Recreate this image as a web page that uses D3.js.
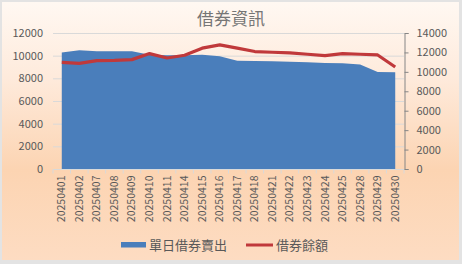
<!DOCTYPE html>
<html>
<head>
<meta charset="utf-8">
<script src="https://cdn.jsdelivr.net/npm/d3@7"></script>
<style>
	html, body { margin: 0; padding: 0; background: #ffffff; }
	svg { display: block; }
	text { font-family: "Noto Sans CJK TC", "Noto Sans", sans-serif; }
</style>
</head>
<body>
<svg id="chart" width="462" height="264"></svg>
<script>
var dates = ["20250401","20250402","20250407","20250408","20250409","20250410","20250411","20250414","20250415","20250416",
	"20250417","20250418","20250421","20250422","20250423","20250424","20250425","20250428","20250429","20250430"];
var dailySell = [10290,10470,10380,10380,10380,10090,10030,10030,10090,9940,
	9560,9530,9500,9470,9410,9360,9330,9230,8560,8530];
var balance = [10980,10880,11150,11180,11260,11880,11430,11710,12440,12780,
	12440,12090,12020,11950,11810,11670,11880,11810,11740,10500];
var leftTicks = [0,2000,4000,6000,8000,10000,12000];
var rightTicks = [0,2000,4000,6000,8000,10000,12000,14000];

var svg = d3.select("#chart");

// background
var defs = svg.append("defs");
var grad = defs.append("linearGradient").attr("id","bg").attr("x1",0).attr("y1",0).attr("x2",0).attr("y2",1);
grad.append("stop").attr("offset","0%").attr("stop-color","#fff8f2");
grad.append("stop").attr("offset","30%").attr("stop-color","#feeadb");
grad.append("stop").attr("offset","65%").attr("stop-color","#fcd4b2");
grad.append("stop").attr("offset","100%").attr("stop-color","#fddcc2");

svg.append("rect").attr("width",462).attr("height",264).attr("fill","#e3e3e3");
svg.append("rect")
	.attr("x",2).attr("y",2)
	.attr("width",457).attr("height",258)
	.attr("fill","url(#bg)");

var plotL = 53, plotR = 404, plotT = 33, plotB = 169;

var x = d3.scaleBand().domain(dates).range([plotL,plotR]);
var xc = function(d){ return x(d) + x.bandwidth()/2; };
var yL = d3.scaleLinear().domain([0,12000]).range([plotB,plotT]);
var yR = d3.scaleLinear().domain([0,14000]).range([plotB,plotT]);

// gridlines
svg.append("g").selectAll("line").data(leftTicks).enter().append("line")
	.attr("x1",plotL).attr("x2",plotR)
	.attr("y1",function(d){ return yL(d)+0.5; })
	.attr("y2",function(d){ return yL(d)+0.5; })
	.attr("stroke","#d9d9d9").attr("stroke-width",1);

// area
var area = d3.area()
	.x(function(d,i){ return xc(dates[i]); })
	.y0(yL(0))
	.y1(function(d){ return yL(d); });
svg.append("path").datum(dailySell)
	.attr("d",area)
	.attr("fill","#4a7ebb");

// line
var line = d3.line()
	.x(function(d,i){ return xc(dates[i]); })
	.y(function(d){ return yR(d); });
svg.append("path").datum(balance)
	.attr("d",line)
	.attr("fill","none")
	.attr("stroke","#c0393b")
	.attr("stroke-width",3.2)
	.attr("stroke-linejoin","round");

// x axis
var xAxis = svg.append("g").attr("transform","translate(0,"+(plotB+0.5)+")");
xAxis.append("line").attr("x1",plotL).attr("x2",plotR).attr("stroke","#d9d9d9");
xAxis.selectAll("line.tk").data(d3.range(dates.length+1)).enter().append("line").classed("tk",1)
	.attr("x1",function(i){ return plotL + i*x.step(); })
	.attr("x2",function(i){ return plotL + i*x.step(); })
	.attr("y1",0).attr("y2",4)
	.attr("stroke","#d9d9d9");
xAxis.selectAll("text").data(dates).enter().append("text")
	.text(function(d){ return d; })
	.attr("transform",function(d){ return "translate("+(xc(d)+3.5)+",6) rotate(-90)"; })
	.attr("text-anchor","end")
	.attr("fill","#595959")
	.attr("font-size","10.5px");

// left axis labels
svg.append("g").selectAll("text").data(leftTicks).enter().append("text")
	.text(function(d){ return d; })
	.attr("x",43)
	.attr("y",function(d){ return yL(d)+4; })
	.attr("text-anchor","end")
	.attr("fill","#595959")
	.attr("font-size","11px");

// right axis
var rAxis = d3.axisRight(yR).tickValues(rightTicks).tickSize(4).tickPadding(8).tickFormat(d3.format("d"));
var rg = svg.append("g").attr("transform","translate("+(plotR+0.5)+",0)").call(rAxis);
rg.select(".domain").attr("stroke","#868686");
rg.selectAll(".tick line").attr("stroke","#868686");
rg.selectAll(".tick text")
	.attr("fill","#595959")
	.attr("font-size","11px")
	.attr("font-family","\"Noto Sans CJK TC\", \"Noto Sans\", sans-serif");

// title
svg.append("text").text("借券資訊")
	.attr("x",231).attr("y",25)
	.attr("text-anchor","middle")
	.attr("fill","#767676")
	.attr("font-size","17px");

// legend
var lg = svg.append("g");
lg.append("rect").attr("x",121).attr("y",242).attr("width",25).attr("height",5.5).attr("fill","#4a7ebb");
lg.append("text").text("單日借券賣出").attr("x",149).attr("y",250).attr("fill","#595959").attr("font-size","13px");
lg.append("line").attr("x1",246).attr("x2",273).attr("y1",245).attr("y2",245)
	.attr("stroke","#c0393b").attr("stroke-width",3);
lg.append("text").text("借券餘額").attr("x",276).attr("y",250).attr("fill","#595959").attr("font-size","13px");
</script>
</body>
</html>
